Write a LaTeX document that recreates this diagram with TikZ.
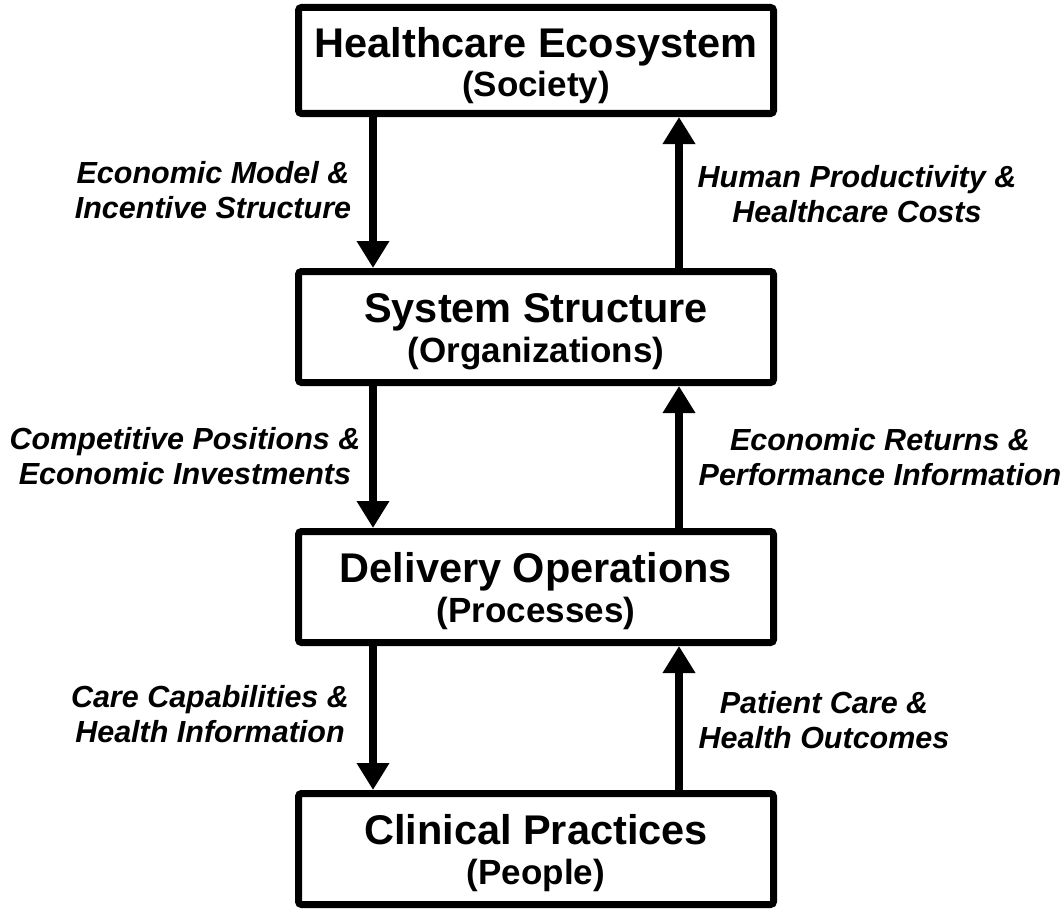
\documentclass[tikz,border=0pt]{standalone}
\usepackage{fontspec}
\setmainfont{Liberation Sans}
\usetikzlibrary{arrows.meta}
\begin{document}
\begin{tikzpicture}[x=1pt,y=-1pt,
  box/.style={draw, line width=7pt, rounded corners=3pt, minimum width=475pt, inner sep=0pt},
  ttl/.style={anchor=base, font=\bfseries\fontsize{41.5}{41.5}\selectfont, inner sep=0pt},
  sub/.style={anchor=base, font=\bfseries\fontsize{35}{35}\selectfont, inner sep=0pt},
  lbl/.style={align=center, font=\bfseries\itshape\fontsize{30.5}{35}\selectfont, inner sep=0pt},
  flow/.style={line width=8pt, -{Triangle[length=27pt,width=31pt]}}]
\useasboundingbox (0,0) rectangle (1064,915);

% boxes
\node[box, minimum height=106pt] (b1) at (536,60.5) {};
\node[box, minimum height=111pt] (b2) at (536,327) {};
\node[box, minimum height=111pt] (b3) at (536,587) {};
\node[box, minimum height=111pt] (b4) at (536,849) {};

% box texts
\node[ttl] (t1) at (536,58) {Healthcare Ecosystem};
\node[sub] (s1) at (536,96) {(Society)};
\node[ttl] (t2) at (536,322) {System Structure};
\node[sub] (s2) at (536,362) {(Organizations)};
\node[ttl] (t3) at (536,582) {Delivery Operations};
\node[sub] (s3) at (536,622) {(Processes)};
\node[ttl] (t4) at (536,844) {Clinical Practices};
\node[sub] (s4) at (536,884) {(People)};

% arrow columns
\coordinate (la) at (373,0);
\coordinate (ra) at (679,0);

\draw[flow] (b1.south -| la) -- (b2.north -| la);
\draw[flow] (b2.north -| ra) -- (b1.south -| ra);
\draw[flow] (b2.south -| la) -- (b3.north -| la);
\draw[flow] (b3.north -| ra) -- (b2.south -| ra);
\draw[flow] (b3.south -| la) -- (b4.north -| la);
\draw[flow] (b4.north -| ra) -- (b3.south -| ra);

% labels
\node[lbl] (l1) at (213,190) {Economic Model \&\\Incentive Structure};
\node[lbl] (r1) at (857,194) {Human Productivity \&\\Healthcare Costs};
\node[lbl] (l2) at (185,456) {Competitive Positions \&\\Economic Investments};
\node[lbl] (r2) at (880,457) {Economic Returns \&\\Performance Information};
\node[lbl] (l3) at (210,714) {Care Capabilities \&\\Health Information};
\node[lbl] (r3) at (824,720) {Patient Care \&\\Health Outcomes};
\end{tikzpicture}
\end{document}
